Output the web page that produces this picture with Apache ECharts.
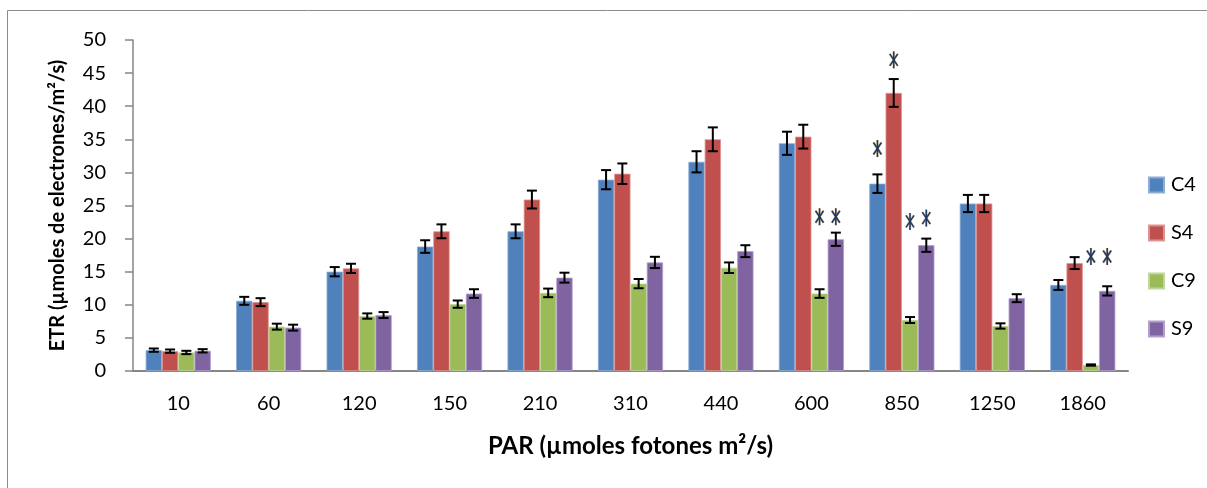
<!DOCTYPE html>
<html>
<head>
<meta charset="utf-8">
<script src="https://cdn.jsdelivr.net/npm/echarts@6/dist/echarts.min.js"></script>
<style>
html,body{margin:0;padding:0;background:#fff;}
#chart{width:1207px;height:488px;}
</style>
</head>
<body>
<div id="chart"></div>
<script>
var categories = ['10','60','120','150','210','310','440','600','850','1250','1860'];
var seriesNames = ['C4','S4','C9','S9'];
var c4 = [3.15, 10.6, 15.0, 18.8, 21.1, 28.9, 31.6, 34.4, 28.3, 25.3, 13.0];
var s4 = [3.0, 10.4, 15.5, 21.1, 25.9, 29.8, 35.0, 35.4, 42.0, 25.3, 16.3];
var c9 = [2.8, 6.7, 8.3, 10.1, 11.8, 13.2, 15.6, 11.7, 7.7, 6.8, 0.9];
var s9 = [3.05, 6.55, 8.45, 11.7, 14.1, 16.4, 18.1, 19.9, 19.0, 11.0, 12.1];
var c4Err = [0.25, 0.6, 0.7, 0.95, 1.05, 1.45, 1.6, 1.75, 1.4, 1.3, 0.75];
var s4Err = [0.25, 0.6, 0.7, 1.05, 1.35, 1.55, 1.8, 1.8, 2.1, 1.3, 0.9];
var c9Err = [0.25, 0.45, 0.4, 0.55, 0.65, 0.7, 0.8, 0.65, 0.45, 0.4, 0.1];
var s9Err = [0.25, 0.45, 0.45, 0.65, 0.75, 0.85, 0.9, 1.0, 1.0, 0.6, 0.7];
var yTicks = [0, 5, 10, 15, 20, 25, 30, 35, 40, 45, 50];
// significance asterisks: [category, series, height]
var stars = [['600','C9',23.3],['600','S9',23.3],['850','C4',33.6],['850','S4',47.0],
             ['850','C9',22.6],['850','S9',23.1],['1860','C9',17.3],['1860','S9',17.3]];

var colors = ['#4F81BD','#C0504D','#9BBB59','#8064A2'];
var edgeColors = ['#8EACD6','#DC9391','#C0D69A','#B2A0CA'];
var values = [c4, s4, c9, s9];
var errs = [c4Err, s4Err, c9Err, s9Err];
var CAT_GAP = 0.28;
var FONT = 'Lato, "Open Sans", sans-serif';

function barOffset(api, sIdx) {
  var cw = api.size([1, 0])[0];
  var bw = cw * (1 - CAT_GAP) / 4;
  return { off: -cw * (1 - CAT_GAP) / 2 + (sIdx + 0.5) * bw, bw: bw };
}

var series = [];
seriesNames.forEach(function (name, i) {
  series.push({
    name: name, type: 'bar', data: values[i],
    barCategoryGap: (CAT_GAP * 100) + '%', barGap: '0%',
    itemStyle: { color: colors[i], borderColor: edgeColors[i], borderWidth: 0.8 }, z: 2
  });
});
seriesNames.forEach(function (name, i) {
  series.push({
    type: 'custom', name: name + ' err',
    data: values[i].map(function (v, k) { return [k, v, errs[i][k]]; }),
    z: 5, silent: true,
    renderItem: function (params, api) {
      var k = api.value(0), v = api.value(1), e = api.value(2);
      var o = barOffset(api, i);
      var top = api.coord([k, v + e]);
      var bot = api.coord([k, v - e]);
      var x = top[0] + o.off;
      var hw = 5;
      var st = { stroke: '#000', lineWidth: 2 };
      return { type: 'group', children: [
        { type: 'line', shape: { x1: x, y1: top[1], x2: x, y2: bot[1] }, style: st },
        { type: 'line', shape: { x1: x - hw, y1: top[1], x2: x + hw, y2: top[1] }, style: st },
        { type: 'line', shape: { x1: x - hw, y1: bot[1], x2: x + hw, y2: bot[1] }, style: st }
      ]};
    }
  });
});
series.push({
  type: 'custom', name: 'stars', silent: true, z: 6,
  data: stars.map(function (s) { return [categories.indexOf(s[0]), s[2], seriesNames.indexOf(s[1])]; }),
  renderItem: function (params, api) {
    var k = api.value(0), v = api.value(1), si = api.value(2);
    var o = barOffset(api, si);
    var p = api.coord([k, v]);
    var x = p[0] + o.off, y = p[1];
    var st = { stroke: '#1F3A66', lineWidth: 1.6 };
    var sh = { stroke: '#E8A848', lineWidth: 2.6, opacity: 0.45 };
    var segs = [[0,-8.5,0,8.5],[-4,-6,4,6],[4,-6,-4,6]];
    var ch = [];
    segs.forEach(function (s) { ch.push({ type: 'line', shape: { x1: x+s[0], y1: y+s[1], x2: x+s[2], y2: y+s[3] }, style: sh }); });
    segs.forEach(function (s) { ch.push({ type: 'line', shape: { x1: x+s[0], y1: y+s[1], x2: x+s[2], y2: y+s[3] }, style: st }); });
    return { type: 'group', children: ch };
  }
});

var chart = echarts.init(document.getElementById('chart'), null, { renderer: 'canvas' });
chart.setOption({
  animation: false,
  textStyle: { fontFamily: FONT },
  graphic: [{ type: 'rect', shape: { x: 7.5, y: 10.5, width: 1300, height: 600 },
    style: { fill: 'none', stroke: '#8c8c8c', lineWidth: 1 }, z: -1 }],
  legend: {
    data: seriesNames, orient: 'vertical', left: 1143, top: 170,
    itemWidth: 15, itemHeight: 15, itemGap: 28, icon: 'rect',
    textStyle: { fontSize: 20, lineHeight: 20, color: '#000', fontFamily: FONT, padding: [0, 0, 0, 2] }
  },
  grid: { left: 133, right: 79, top: 40, bottom: 117, containLabel: false },
  xAxis: {
    type: 'category', data: categories,
    axisLine: { lineStyle: { color: '#868686', width: 2 } },
    axisTick: { show: false },
    axisLabel: { color: '#000', fontSize: 20, margin: 23, fontFamily: FONT },
    name: 'PAR (µmoles fotones m²/s)', nameLocation: 'middle', nameGap: 63,
    nameTextStyle: { fontSize: 24, fontWeight: 'bold', color: '#000', fontFamily: FONT }
  },
  yAxis: {
    type: 'value', min: 0, max: 50, interval: 5,
    axisLine: { show: true, lineStyle: { color: '#868686', width: 1.5 } },
    axisTick: { show: true, length: 8, lineStyle: { color: '#868686', width: 1.5 } },
    splitLine: { show: false },
    axisLabel: { color: '#000', fontSize: 20, margin: 27, fontFamily: FONT,
      formatter: function (v) { return yTicks.indexOf(v) >= 0 ? String(v) : ''; } },
    name: 'ETR (µmoles de electrones/m²/s)', nameLocation: 'middle', nameGap: 65,
    nameTextStyle: { fontSize: 20, fontWeight: 'bold', color: '#000', fontFamily: FONT }
  },
  series: series
});
</script>
</body>
</html>
